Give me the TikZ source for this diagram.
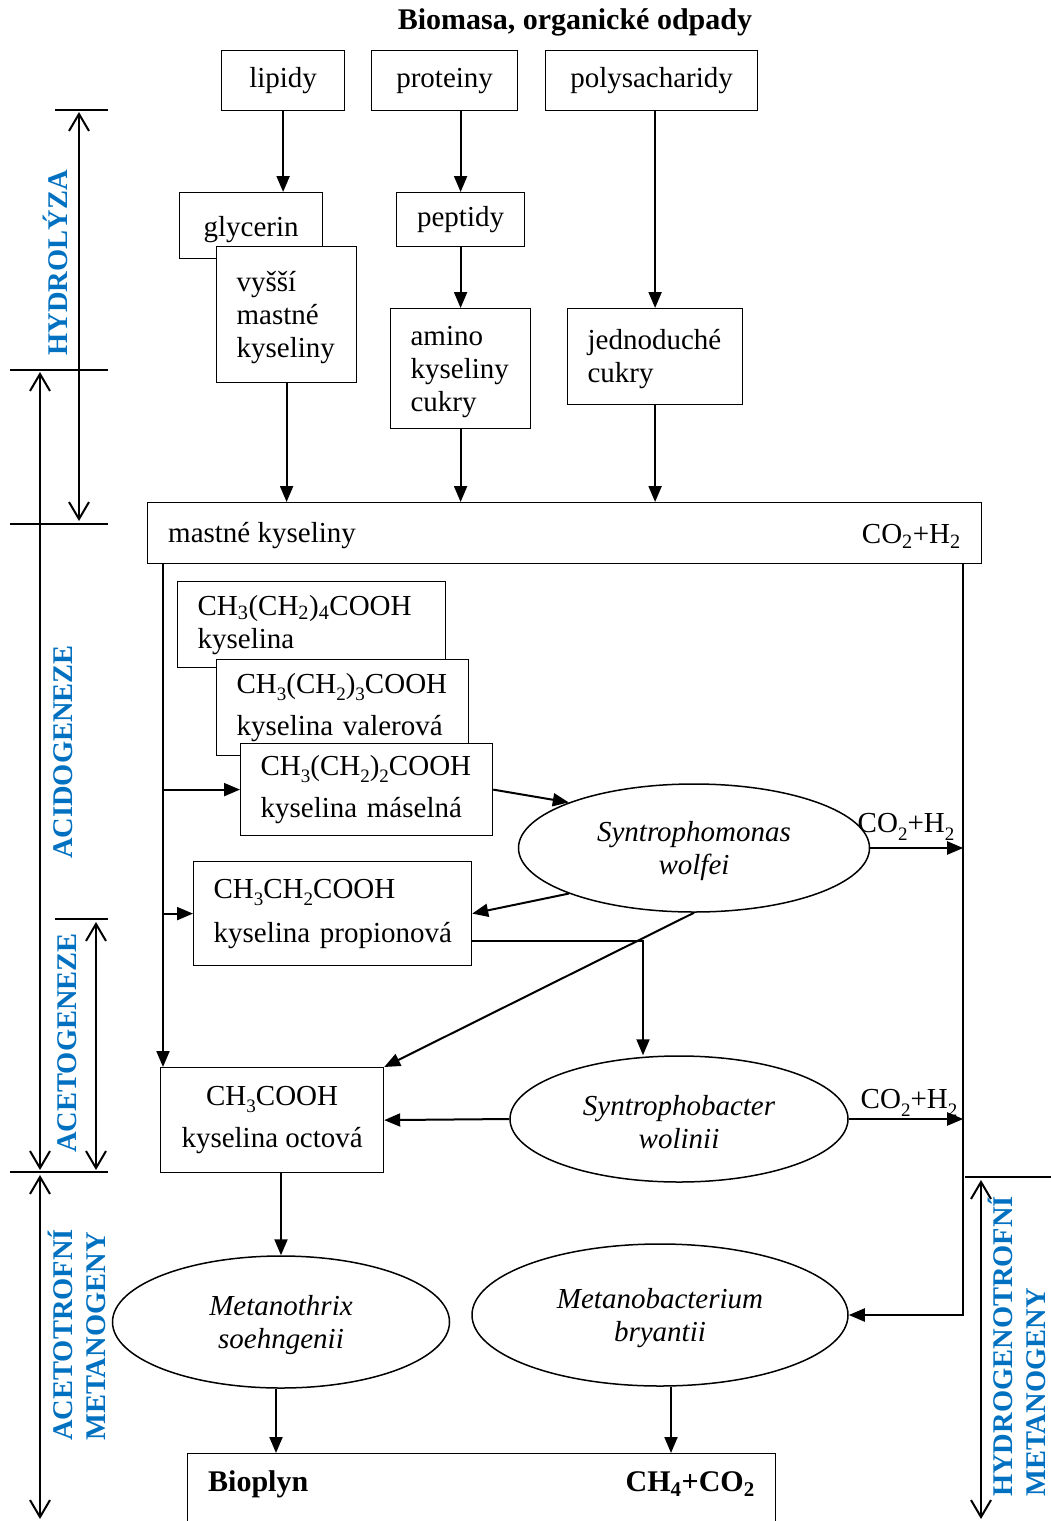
\documentclass[tikz,border=0pt]{standalone}
\usepackage{fontspec}
\setmainfont{Liberation Serif}
\usetikzlibrary{arrows.meta,shapes.geometric,calc}
\definecolor{phblue}{RGB}{0,112,192}
\newcommand{\ls}[1]{\raisebox{-0.55ex}{\fontsize{19}{19}\selectfont #1}}
\tikzset{
 box/.style={draw, line width=1.2pt, fill=white, rectangle, inner sep=0pt, anchor=north west, font=\fontsize{29}{33}\selectfont, align=center},
 lbox/.style={box, align=left, inner xsep=20pt},
 txt/.style={inner sep=0pt, font=\fontsize{29}{33}\selectfont},
 ell/.style={draw, line width=1.5pt, ellipse, inner sep=0pt, font=\fontsize{29}{33}\selectfont\itshape, align=center},
 arr/.style={line width=2pt, -{Triangle[length=16pt,width=13pt]}},
 dbl/.style={line width=2pt, {Straight Barb[length=17pt,width=20pt]}-{Straight Barb[length=17pt,width=20pt]}},
 lab/.style={font=\fontsize{28.5}{33}\selectfont\bfseries, text=phblue, rotate=90, inner sep=0pt, align=left},
 tick/.style={line width=1.5pt},
}
\begin{document}
\begin{tikzpicture}[x=1pt,y=-1pt]
\clip (0,0) rectangle (1051,1521);
% title
\node[font=\fontsize{30}{34}\selectfont\bfseries] (title) at (575,22) {Biomasa, organické odpady};
% top boxes
\node[box, minimum width=123pt, minimum height=60pt] (lip) at (221,50) {lipidy};
\node[box, minimum width=146pt, minimum height=60pt] (prot) at (371,50) {proteiny};
\node[box, minimum width=212pt, minimum height=60pt] (poly) at (545,50) {polysacharidy};
\node[box, minimum width=143pt, minimum height=66pt] (gly) at (179,192) {\rule{0pt}{28pt}glycerin};
\node[lbox, text width=100pt, minimum height=136pt] (vys) at (216,246) {\rule{0pt}{27pt}vyšší\\mastné\\kyseliny};
\node[box, minimum width=128pt, minimum height=54pt] (pep) at (396,192) {peptidy};
\node[lbox, text width=100pt, minimum height=120pt] (amino) at (390,308) {\rule{0pt}{26pt}amino\\kyseliny\\cukry};
\node[lbox, text width=135pt, minimum height=96pt] (jed) at (567,308) {\rule{0pt}{26pt}jednoduché\\cukry};
% big box
\node[box, minimum width=834pt, minimum height=61pt] (big) at (147,502) {};
\node[txt, anchor=west] (mk) at (168,536) {mastné kyseliny};
\node[txt, anchor=east] (co1) at (961,536) {CO\textsubscript{2}+H\textsubscript{2}};
% acids
\node[lbox, text width=228pt, minimum height=86pt] (c6) at (177,581) {\mbox{CH\textsubscript{3}(CH\textsubscript{2})\textsubscript{4}COOH}\\\mbox{kyselina}};
\node[lbox, text width=212pt, minimum height=96pt] (c5) at (216,659) {\mbox{CH\ls{3}(CH\ls{2})\ls{3}COOH}\\[9pt]\mbox{kyselina valerová}};
\node[lbox, text width=212pt, minimum height=92pt] (c4) at (240,743) {\mbox{CH\ls{3}(CH\ls{2})\ls{2}COOH}\\[9pt]\mbox{kyselina máselná}};
\node[lbox, text width=238pt, minimum height=104pt] (prop) at (193,861) {\mbox{CH\ls{3}CH\ls{2}COOH}\\[11pt]\mbox{kyselina propionová}};
\node[box, minimum width=223pt, minimum height=105pt] (oct) at (160,1067) {CH\ls{3}COOH\\[9pt]kyselina octová};
% ellipses
\node[ell, minimum width=351pt, minimum height=128pt] (swol) at (694,848) {\rule{0pt}{26pt}Syntrophomonas\\wolfei};
\node[ell, minimum width=338pt, minimum height=126pt] (swin) at (679,1119) {\rule{0pt}{26pt}Syntrophobacter\\wolinii};
\node[ell, minimum width=337pt, minimum height=132pt] (mth) at (281,1322) {\rule{0pt}{26pt}Metanothrix\\soehngenii};
\node[ell, minimum width=376pt, minimum height=142pt] (mbac) at (660,1315) {\rule{0pt}{26pt}Metanobacterium\\bryantii};
% bioplyn
\node[box, minimum width=588pt, minimum height=120pt] (bio) at (187,1453) {};
\node[txt, anchor=west, font=\fontsize{30}{34}\selectfont\bfseries] (biot) at (208,1484) {Bioplyn};
\node[txt, anchor=east, font=\fontsize{30}{34}\selectfont\bfseries] (bioc) at (755,1484) {CH\textsubscript{4}+CO\textsubscript{2}};
% gas labels
\node[txt] (g1) at (906,827) {CO\ls{2}+H\ls{2}};
\node[txt] (g2) at (909,1103) {CO\ls{2}+H\ls{2}};
% coordinates
\coordinate (ltop) at ([xshift=16pt]big.south west);
\coordinate (rtop) at ([xshift=-19pt]big.south east);
\coordinate (pj) at ([xshift=-36pt]swin.north);
% connectors
\draw[arr] (lip.south -| gly.north) ++(32,0) coordinate (lipo) -- (lipo |- gly.north);
\draw[arr] (pep.north |- prot.south) -- (pep.north);
\draw[arr] (jed.north |- poly.south) -- (jed.north);
\draw[arr] (pep.south) -- (amino.north);
\draw[arr] (vys.south) -- (vys.south |- big.north);
\draw[arr] (amino.south) -- (amino.south |- big.north);
\draw[arr] (jed.south) -- (jed.south |- big.north);
\draw[arr] (ltop) -- (ltop |- oct.north);
\draw[arr] (ltop |- c4.west) -- (c4.west);
\draw[arr] (ltop |- prop.west) -- (prop.west);
\draw[arr] (rtop) -- (rtop |- mbac.east) -- (mbac.east);
\draw[arr] (swol.east) -- (swol.east -| rtop);
\draw[arr] (swin.east) -- (swin.east -| rtop);
\draw[arr] (c4.east) -- (swol.160);
\draw[arr] (swol.200) -- (prop.east);
\draw[arr] (swol.south) -- (oct.north east);
\draw[arr] ([yshift=-27pt]prop.east) -| (pj);
\draw[arr] (swin.west) -- (oct.east);
\draw[arr] (mth.north |- oct.south) -- (mth.north);
\draw[arr] ([xshift=-5pt]mth.south) -- ([xshift=-5pt]mth.south |- bio.north);
\draw[arr] ([xshift=11pt]mbac.south) -- ([xshift=11pt]mbac.south |- bio.north);
% side scale
\draw[tick] (55,110) -- (108,110);
\draw[tick] (10,370) -- (108,370);
\draw[tick] (10,524) -- (108,524);
\draw[tick] (55,919) -- (108,919);
\draw[tick] (10,1172) -- (108,1172);
\draw[tick] (965,1177) -- (1051,1177);
\draw[dbl] (79,112) -- (79,521);
\draw[dbl] (40,372) -- (40,1170);
\draw[dbl] (96,922) -- (96,1170);
\draw[dbl] (40,1175) -- (40,1519);
\draw[dbl] (981,1180) -- (981,1519);
% side labels
\node[lab] (hyd) at (55,263) {HYDROLÝZA};
\node[lab] (acid) at (63,752) {ACIDOGENEZE};
\node[lab] (acet) at (67,1043) {ACETOGENEZE};
\node[lab, anchor=west] (acm) at (77,1441) {ACETOTROFNÍ\\METANOGENY};
\node[lab, anchor=west] (hym) at (1017,1497) {HYDROGENOTROFNÍ\\METANOGENY};
\end{tikzpicture}
\end{document}
